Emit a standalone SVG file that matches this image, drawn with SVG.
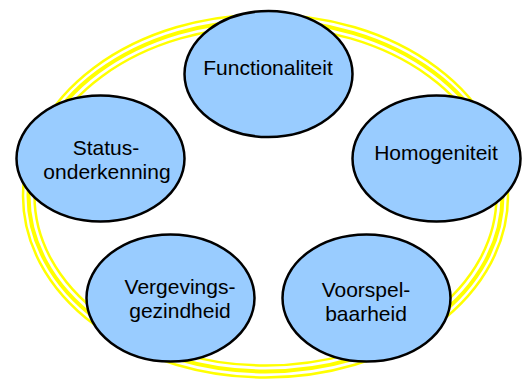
<svg xmlns="http://www.w3.org/2000/svg" width="522" height="379" viewBox="0 0 522 379">
<style>
.ring{fill:none;stroke:#FFFF00}
.node ellipse{fill:#99CCFF;stroke:#000;stroke-width:2.5}
.node text{font-family:"Liberation Sans",Arial,sans-serif;font-size:21px;fill:#000;text-anchor:middle}
</style>
<rect width="522" height="379" fill="#fff"/>
<g id="ring">
<ellipse class="ring" cx="265.5" cy="196" rx="242.5" ry="181.5" stroke-width="2.5"/>
<ellipse class="ring" cx="265.5" cy="196" rx="237" ry="175.5" stroke-width="4"/>
<ellipse class="ring" cx="265.5" cy="196" rx="231" ry="169.5" stroke-width="2.5"/>
</g>
<g id="connectors"></g>
<g id="n-functionaliteit" class="node">
<ellipse cx="268.5" cy="74" rx="84" ry="63"/>
<text x="268" y="75">Functionaliteit</text>
</g>
<g id="n-status" class="node">
<ellipse cx="100.5" cy="158.5" rx="84" ry="63"/>
<text x="106" y="155">Status-</text>
<text x="107" y="179">onderkenning</text>
</g>
<g id="n-homogeniteit" class="node">
<ellipse cx="436.5" cy="158.5" rx="84" ry="63"/>
<text x="436" y="160">Homogeniteit</text>
</g>
<g id="n-vergevings" class="node">
<ellipse cx="170.5" cy="298" rx="84" ry="63.5"/>
<text x="180" y="294">Vergevings-</text>
<text x="180" y="318">gezindheid</text>
</g>
<g id="n-voorspel" class="node">
<ellipse cx="366.5" cy="298" rx="84" ry="63.5"/>
<text x="366" y="297">Voorspel-</text>
<text x="366" y="321">baarheid</text>
</g>
</svg>
